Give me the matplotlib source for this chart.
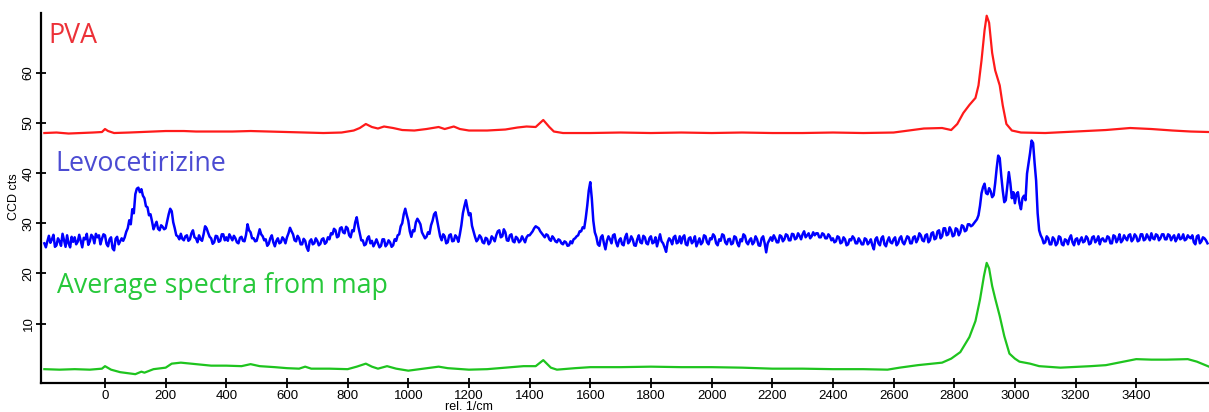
import matplotlib
matplotlib.use('Agg')
import matplotlib.pyplot as plt
import numpy as np

# ---- PVA (rel. 1/cm, CCD cts) ----
pva_x = [-200, -160, -120, -80, -40, -10, 0, 10, 30, 80, 120, 160, 200, 260, 300, 360,
         420, 480, 540, 600, 660, 720, 780, 820, 840, 860, 880, 900, 920, 950, 980,
         1020, 1060, 1100, 1120, 1150, 1170, 1200, 1260, 1320, 1360, 1390, 1420, 1445,
         1465, 1480, 1510, 1600, 1700, 1800, 1900, 2000, 2100, 2200, 2300, 2400, 2500,
         2600, 2650, 2700, 2760, 2790, 2810, 2830, 2850, 2870, 2880, 2890, 2900, 2907,
         2915, 2925, 2935, 2950, 2960, 2972, 2990, 3020, 3100, 3200, 3300, 3380, 3450,
         3520, 3580, 3640]
pva_y = [48.0, 48.1, 47.9, 48.0, 48.1, 48.2, 48.8, 48.4, 48.0, 48.1, 48.2, 48.3, 48.4, 48.4, 48.3, 48.3,
         48.3, 48.4, 48.3, 48.2, 48.1, 48.0, 48.1, 48.5, 49.0, 49.8, 49.2, 48.9, 49.3, 49.0, 48.6,
         48.5, 48.8, 49.2, 48.8, 49.3, 48.8, 48.5, 48.5, 48.7, 49.1, 49.3, 49.2, 50.6,
         49.2, 48.3, 48.0, 48.0, 48.1, 48.0, 48.1, 48.0, 48.1, 48.0, 48.0, 48.1, 48.0,
         48.1, 48.5, 48.9, 49.0, 48.6, 49.8, 52.0, 53.6, 55.0, 57.5, 62.5, 68.5, 71.4,
         70.0, 64.0, 60.5, 57.5, 53.5, 49.8, 48.5, 48.1, 48.0, 48.3, 48.6, 49.0, 48.8,
         48.5, 48.3, 48.2]

# ---- Levocetirizine, sampled every 5 rel. 1/cm from -200 (one row = 100 1/cm) ----
levo_start = -200
levo_step = 5
levo_y = [
    26.0, 25.2, 26.4, 27.5, 26.1, 26.8, 27.7, 25.3, 25.6, 27.0, 26.4, 25.5, 27.9, 26.6, 25.3, 27.6, 26.0, 25.2, 27.3, 26.3,  # -200
    27.2, 25.8, 26.3, 27.7, 26.5, 25.2, 27.1, 26.8, 27.9, 25.7, 26.4, 27.7, 27.3, 26.0, 27.9, 27.2, 27.6, 25.8, 26.9, 27.8,  # -100
    27.6, 25.9, 25.4, 26.8, 27.2, 25.0, 24.6, 26.9, 27.3, 25.8, 26.4, 27.0, 26.5, 27.2, 28.3, 29.0, 30.6, 29.8, 32.8, 32.0,  # 0
    35.8, 36.9, 37.1, 36.2, 36.8, 35.5, 35.0, 33.4, 33.2, 31.6, 31.8, 30.4, 28.8, 29.6, 30.3, 28.9, 28.6, 29.6, 29.3, 28.8,  # 100
    29.0, 30.4, 31.8, 32.9, 32.4, 30.2, 29.0, 27.6, 27.4, 26.8, 27.9, 26.9, 26.6, 27.4, 27.6, 26.5, 26.8, 28.0, 28.6, 27.2,  # 200
    27.0, 26.2, 27.6, 26.8, 26.5, 27.8, 29.4, 29.0, 28.1, 27.3, 27.0, 25.9, 26.2, 27.5, 27.4, 26.3, 26.5, 27.8, 27.8, 26.6,  # 300
    27.2, 26.5, 27.8, 27.2, 26.6, 27.5, 27.0, 26.2, 26.0, 27.1, 27.3, 26.5, 26.4, 27.7, 29.8, 28.6, 28.2, 27.0, 27.0, 26.4,  # 400
    26.5, 27.6, 28.8, 27.8, 27.4, 26.6, 26.8, 25.5, 25.9, 27.0, 27.6, 26.2, 25.4, 26.5, 27.0, 26.0, 26.2, 27.2, 26.8, 26.0,  # 500
    27.2, 28.0, 29.1, 28.4, 27.8, 26.6, 26.4, 27.5, 27.0, 25.8, 25.8, 26.9, 26.5, 25.2, 24.5, 26.4, 26.8, 25.8, 26.0, 27.0,  # 600
    26.5, 25.6, 25.9, 26.8, 27.0, 25.9, 26.2, 27.2, 26.8, 28.0, 27.8, 28.9, 28.6, 27.2, 27.4, 29.0, 29.2, 28.2, 28.0, 29.3,  # 700
    29.0, 27.6, 27.2, 28.6, 28.4, 30.2, 31.2, 29.4, 28.0, 26.6, 26.6, 25.6, 25.8, 27.0, 27.4, 26.0, 26.5, 25.4, 26.0, 26.8,  # 800
    26.0, 25.2, 25.5, 26.8, 26.8, 25.4, 25.8, 26.6, 26.2, 25.3, 25.6, 26.8, 26.5, 27.6, 27.8, 29.4, 30.0, 31.8, 32.9, 31.6,  # 900
    30.5, 28.4, 27.3, 28.6, 28.4, 30.2, 30.9, 30.4, 29.8, 28.2, 27.6, 27.0, 27.3, 28.2, 27.9, 29.6, 30.5, 31.8, 32.2, 30.6,  # 1000
    29.0, 27.4, 26.6, 27.8, 27.4, 26.0, 26.2, 27.6, 27.8, 26.4, 26.5, 27.6, 27.2, 26.3, 27.8, 29.6, 32.0, 33.4, 34.6, 33.0,  # 1100
    31.6, 32.0, 29.5, 28.4, 27.3, 26.4, 26.8, 27.6, 27.2, 26.2, 26.0, 27.1, 26.9, 25.8, 26.2, 27.4, 27.0, 26.4, 27.6, 28.4,  # 1200
    28.6, 27.2, 27.4, 28.8, 28.2, 26.6, 26.5, 27.6, 27.8, 26.4, 26.2, 27.3, 27.0, 26.2, 26.5, 27.4, 26.8, 26.2, 27.2, 27.6,  # 1300
    27.6, 28.0, 28.4, 29.0, 29.4, 29.2, 29.0, 28.4, 28.0, 27.6, 27.2, 27.8, 27.6, 26.8, 26.5, 27.4, 27.0, 26.4, 26.2, 26.8,  # 1400
    26.6, 26.0, 25.8, 26.4, 26.2, 25.5, 25.6, 26.4, 26.0, 26.8, 27.0, 27.4, 27.6, 28.4, 28.4, 29.2, 29.0, 31.0, 33.5, 36.5,  # 1500
    38.2, 35.0, 30.5, 28.2, 27.3, 25.8, 25.5, 27.2, 27.6, 26.0, 24.8, 26.5, 27.4, 26.8, 26.0, 27.6, 27.8, 26.2, 25.4, 26.6,  # 1600
    27.0, 25.8, 25.6, 27.2, 27.9, 26.0, 26.4, 27.4, 26.8, 25.6, 25.5, 26.8, 27.6, 26.2, 26.0, 27.5, 27.2, 26.0, 25.8, 27.0,  # 1700
    27.4, 26.0, 26.2, 27.2, 25.4, 26.6, 27.8, 26.4, 26.0, 25.2, 24.3, 26.2, 27.0, 26.6, 25.8, 27.2, 27.5, 26.0, 26.2, 27.4,  # 1800
    26.0, 27.2, 27.6, 25.8, 25.6, 27.0, 27.2, 26.0, 26.4, 27.4, 25.4, 26.2, 27.0, 25.8, 26.2, 27.6, 27.4, 26.2, 25.8, 27.0,  # 1900
    26.8, 27.8, 27.4, 26.0, 25.6, 26.8, 26.5, 27.8, 27.6, 26.2, 25.8, 26.8, 26.9, 25.8, 26.0, 27.4, 27.2, 26.0, 25.4, 26.8,  # 2000
    26.4, 27.8, 27.5, 26.2, 25.8, 26.6, 27.0, 25.8, 26.2, 27.4, 26.8, 25.6, 25.5, 27.0, 27.4, 26.0, 24.2, 26.0, 26.6, 27.2,  # 2100
    26.5, 27.6, 27.0, 26.2, 26.2, 27.6, 27.4, 26.4, 26.8, 27.8, 27.6, 26.6, 26.6, 27.9, 27.8, 26.8, 27.0, 28.0, 27.5, 26.8,  # 2200
    27.8, 28.4, 27.2, 27.6, 28.0, 27.0, 27.4, 28.2, 27.6, 28.0, 28.0, 27.2, 27.2, 28.0, 27.8, 27.0, 27.0, 27.8, 27.4, 26.6,  # 2300
    27.0, 26.2, 26.4, 27.4, 27.2, 26.0, 26.2, 27.2, 26.8, 25.6, 25.8, 26.8, 26.6, 27.4, 27.0, 26.0, 26.0, 27.0, 26.5, 25.8,  # 2400
    25.8, 27.0, 26.8, 25.8, 26.2, 26.8, 25.6, 24.8, 26.8, 27.2, 26.0, 25.6, 27.0, 27.4, 25.8, 25.4, 26.5, 27.2, 26.2, 26.0,  # 2500
    26.8, 27.2, 25.6, 26.0, 27.0, 27.4, 26.2, 25.8, 26.6, 27.4, 27.2, 26.0, 26.0, 27.2, 27.4, 26.2, 26.8, 28.0, 27.6, 26.6,  # 2600
    26.4, 27.6, 27.8, 26.2, 26.6, 28.0, 28.2, 26.8, 27.0, 28.4, 28.6, 27.0, 27.4, 29.0, 29.0, 27.6, 27.8, 29.2, 28.6, 27.4,  # 2700
    27.6, 29.0, 28.8, 27.6, 28.2, 29.6, 29.4, 28.4, 28.6, 29.8, 29.8, 29.4, 29.6, 30.0, 30.4, 30.8, 31.6, 33.5, 36.0, 37.2,  # 2800
    37.9, 36.0, 35.8, 37.0, 36.4, 35.2, 35.6, 38.0, 41.0, 43.5, 43.0, 39.5, 36.5, 34.2, 34.6, 37.5, 40.2, 38.0, 35.0, 36.2,  # 2900
    34.0, 35.8, 36.2, 34.0, 32.8, 35.0, 35.5, 34.6, 39.9, 42.0, 44.0, 46.5, 46.0, 42.0, 38.5, 32.0, 28.6, 27.6, 27.0, 26.0,  # 3000
    26.2, 27.4, 27.0, 25.8, 25.8, 27.2, 26.8, 25.6, 26.0, 27.4, 27.2, 25.8, 25.6, 26.8, 26.6, 25.8, 27.0, 27.6, 26.2, 25.6,  # 3100
    26.8, 27.0, 25.8, 26.6, 27.2, 26.2, 26.4, 27.4, 27.0, 25.8, 26.0, 27.2, 27.4, 26.2, 26.6, 27.4, 25.8, 26.8, 27.0, 26.4,  # 3200
    26.4, 27.4, 27.2, 26.0, 26.0, 27.6, 27.4, 26.2, 26.8, 27.8, 26.2, 26.6, 27.6, 27.0, 26.6, 27.6, 27.8, 26.4, 26.8, 27.8,  # 3300
    27.4, 26.4, 26.6, 27.8, 27.8, 26.6, 26.8, 27.8, 27.2, 26.6, 28.0, 27.0, 26.8, 27.8, 27.6, 26.6, 27.0, 27.8, 27.8, 26.8,  # 3400
    26.8, 27.8, 27.6, 26.6, 27.2, 27.6, 26.4, 27.0, 27.8, 26.8, 27.0, 27.8, 26.6, 26.8, 27.6, 27.2, 27.0, 27.6, 26.2, 25.8,  # 3500
    27.4, 27.6, 26.0, 26.4, 27.2, 27.0, 26.6, 26.0,                                                                          # 3600
]

# ---- Average spectra from map ----
avg_x = [-200, -150, -100, -50, -10, 0, 20, 50, 100, 120, 130, 160, 200, 220, 250, 300,
         350, 400, 450, 480, 510, 560, 600, 640, 660, 680, 740, 800, 830, 860, 880, 900,
         930, 960, 1000, 1050, 1100, 1130, 1200, 1260, 1320, 1380, 1420, 1445, 1470, 1490,
         1550, 1600, 1700, 1800, 1900, 2000, 2100, 2200, 2300, 2400, 2500, 2580, 2620,
         2680, 2760, 2790, 2820, 2850, 2870, 2885, 2898, 2907, 2915, 2925, 2935, 2950,
         2965, 2982, 3000, 3015, 3050, 3080, 3150, 3250, 3300, 3350, 3400, 3450, 3500,
         3570, 3600, 3640]
avg_y = [0.9, 0.8, 0.9, 0.8, 1.0, 1.5, 0.8, 0.3, -0.1, 0.4, 0.2, 0.9, 1.2, 2.0, 2.2, 1.9,
         1.6, 1.6, 1.5, 1.9, 1.5, 1.3, 1.1, 1.0, 1.4, 1.0, 1.0, 0.9, 1.4, 2.0, 1.4, 1.0,
         1.5, 1.0, 0.6, 1.0, 1.4, 1.1, 0.8, 0.9, 1.2, 1.5, 1.5, 2.7, 1.2, 0.8,
         1.1, 1.3, 1.3, 1.4, 1.3, 1.3, 1.2, 1.0, 1.0, 0.9, 0.9, 0.8, 1.2,
         1.7, 2.2, 3.0, 4.3, 7.3, 10.5, 14.8, 19.5, 22.1, 21.0, 17.5, 15.0, 11.5,
         7.5, 4.0, 3.0, 2.4, 2.0, 1.5, 1.2, 1.5, 1.7, 2.3, 2.9, 2.8, 2.8,
         2.9, 2.4, 1.4]

x_ticks = list(range(0, 3401, 200))
y_ticks = [10, 20, 30, 40, 50, 60]

levo_x = levo_start + levo_step * np.arange(len(levo_y))

fig = plt.figure(figsize=(12.09, 4.12), dpi=100)
ax = fig.add_axes([41 / 1209, 29.3 / 412, 1168 / 1209, 370 / 412])

ax.plot(pva_x, pva_y, color='#ff1a1a', linewidth=1.6)
ax.plot(levo_x, levo_y, color='#0000ff', linewidth=1.8)
ax.plot(avg_x, avg_y, color='#1ec41e', linewidth=1.6)

ax.set_xlim(-211, 3640)
ax.set_ylim(-1.8, 72)

ax.spines['top'].set_visible(False)
ax.spines['right'].set_visible(False)
ax.spines['left'].set_linewidth(1.6)
ax.spines['bottom'].set_linewidth(1.6)

ax.set_xticks(x_ticks)
ax.set_yticks(y_ticks)
ax.tick_params(axis='both', direction='inout', length=7, width=1.3, colors='black',
               labelsize=9.5)
ax.tick_params(axis='x', pad=2)
ax.tick_params(axis='y', pad=1)
for lab in ax.get_xticklabels() + ax.get_yticklabels():
    lab.set_family('Liberation Sans')
for lab in ax.get_yticklabels():
    lab.set_rotation(90)
    lab.set_va('center')

# axis titles
fig.text(14 / 1209, 1 - 197 / 412, 'CCD cts', rotation=90, ha='center', va='center',
         fontsize=9, family='Liberation Sans')
fig.text(469 / 1209, 1 - 401 / 412, 'rel. 1/cm', ha='center', va='top',
         fontsize=9, family='Liberation Sans')

# spectrum names
fig.text(48 / 1209, 1 - 43 / 412, 'PVA', color='#ec3138', fontsize=19.3,
         family='Open Sans', va='baseline')
fig.text(55 / 1209, 1 - 171 / 412, 'Levocetirizine', color='#4b4bd2', fontsize=19.3,
         family='Open Sans', va='baseline')
fig.text(57 / 1209, 1 - 293 / 412, 'Average spectra from map', color='#26c83a',
         fontsize=19.3, family='Open Sans', va='baseline')

fig.savefig('out.png', dpi=100)
